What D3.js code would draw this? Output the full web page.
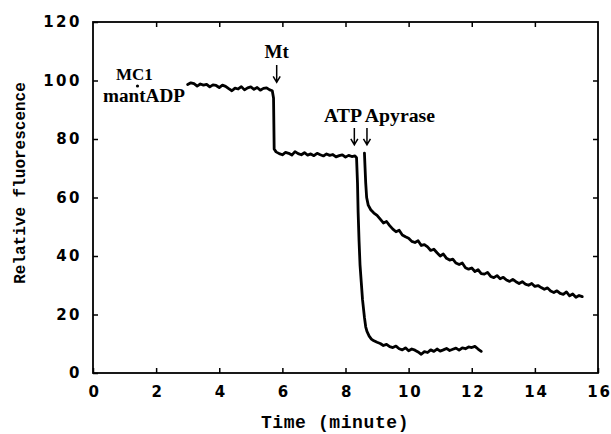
<!DOCTYPE html>
<html>
<head>
<meta charset="utf-8">
<script src="https://cdn.jsdelivr.net/npm/d3@7"></script>
<style>
  html, body { margin: 0; padding: 0; background: #fff; }
  svg { display: block; }
</style>
</head>
<body>
<svg id="chart" width="611" height="434"></svg>
<script>
// Axis ticks
const xTicks = [0, 2, 4, 6, 8, 10, 12, 14, 16];
const yTicks = [0, 20, 40, 60, 80, 100, 120];

// Fluorescence trace: MC1·mantADP, then microtubules (Mt), then ATP
const traceMainTime = [
  3.0, 3.1, 3.2, 3.3, 3.4, 3.5, 3.6, 3.7, 3.8, 3.9,
  4.0, 4.1, 4.2, 4.3, 4.4, 4.5, 4.6, 4.7, 4.8, 4.9,
  5.0, 5.1, 5.2, 5.3, 5.4, 5.5, 5.6, 5.68, 5.72, 5.74,
  5.8, 5.9, 6.0, 6.1, 6.2, 6.3, 6.4, 6.5, 6.6, 6.7,
  6.8, 6.9, 7.0, 7.1, 7.2, 7.3, 7.4, 7.5, 7.6, 7.7,
  7.8, 7.9, 8.0, 8.1, 8.2, 8.3, 8.35, 8.38, 8.40, 8.43,
  8.46, 8.50, 8.54, 8.60, 8.64, 8.68, 8.75, 8.82, 8.9, 9.0,
  9.1, 9.2, 9.3, 9.4, 9.5, 9.6, 9.7, 9.8, 9.9, 10.0,
  10.1, 10.2, 10.3, 10.4, 10.5, 10.6, 10.7, 10.8, 10.9, 11.0,
  11.1, 11.2, 11.3, 11.4, 11.5, 11.6, 11.7, 11.8, 11.9, 12.0,
  12.1, 12.2, 12.3
];
const traceMainValue = [
  98.6, 99.2, 98.9, 98.1, 98.8, 98.4, 98.7, 97.8, 98.5, 98.3,
  97.6, 98.4, 98.0, 97.2, 96.5, 97.4, 97.1, 97.9, 96.8, 97.5,
  97.8, 97.0, 97.6, 96.7, 97.3, 97.5, 96.8, 96.5, 94.0, 76.6,
  75.6, 75.0, 74.6, 75.4, 75.1, 74.5, 75.7, 75.0, 74.6, 75.3,
  74.5, 74.9, 74.3, 75.1, 74.6, 74.2, 74.9, 74.4, 74.7, 73.9,
  74.3, 74.6, 73.8, 74.4, 74.0, 74.2, 73.6, 65.0, 55.0, 45.0,
  37.0, 31.0, 25.0, 19.0, 15.8, 14.2, 12.6, 11.6, 11.0, 10.5,
  10.1, 9.4, 9.8, 9.0, 8.7, 9.2, 8.3, 7.9, 8.6, 7.6,
  8.2, 7.8, 7.2, 6.4, 7.3, 7.0, 7.9, 7.4, 8.2, 7.5,
  7.9, 8.4, 7.7, 8.1, 8.5, 7.8, 8.6, 8.3, 8.9, 8.7,
  9.1, 8.2, 7.4
];

// Fluorescence trace after apyrase addition
const traceApyTime = [
  8.60, 8.62, 8.64, 8.67, 8.72, 8.8, 8.9, 9.0, 9.1, 9.2,
  9.3, 9.4, 9.5, 9.6, 9.7, 9.8, 9.9, 10.0, 10.1, 10.2,
  10.3, 10.4, 10.5, 10.6, 10.7, 10.8, 10.9, 11.0, 11.1, 11.2,
  11.3, 11.4, 11.5, 11.6, 11.7, 11.8, 11.9, 12.0, 12.1, 12.2,
  12.3, 12.4, 12.5, 12.6, 12.7, 12.8, 12.9, 13.0, 13.1, 13.2,
  13.3, 13.4, 13.5, 13.6, 13.7, 13.8, 13.9, 14.0, 14.1, 14.2,
  14.3, 14.4, 14.5, 14.6, 14.7, 14.8, 14.9, 15.0, 15.1, 15.2,
  15.3, 15.4, 15.5
];
const traceApyValue = [
  75.2, 70.0, 65.0, 60.0, 57.4, 55.8, 54.7, 53.9, 52.6, 51.3,
  51.8, 50.4, 49.2, 48.3, 48.8, 47.2, 46.6, 46.1, 45.0, 44.6,
  45.2, 43.6, 43.9, 43.1, 41.9, 42.3, 41.1, 40.0, 40.7, 39.2,
  38.6, 38.9, 37.6, 37.1, 37.6, 36.0, 35.5, 35.9, 34.7, 35.3,
  34.0, 33.8, 34.4, 33.0, 32.6, 33.3, 32.2, 32.7, 31.8, 31.3,
  32.0, 31.2, 30.6, 31.2, 30.4, 30.0, 30.6, 29.6, 29.9, 29.2,
  28.6, 29.1, 28.0, 27.5, 28.1, 27.2, 26.9, 27.7, 26.4, 27.0,
  25.9, 26.5, 26.1
];

// Annotation labels and arrow positions (time, fluorescence)
const labelTexts = ["MC1", "mantADP", "Mt", "ATP Apyrase"];
const arrowTimes = [5.82, 8.28, 8.68];
const arrowTop = [105.3, 83.8, 83.8];
const arrowBottom = [99.4, 78.0, 78.0];

const svg = d3.select("#chart");
const x = d3.scaleLinear().domain([0, 16]).range([93, 598]);
const y = d3.scaleLinear().domain([0, 120]).range([373, 22]);

const tickFont = "'DejaVu Sans', sans-serif";
const monoFont = "'Liberation Mono', 'DejaVu Sans Mono', monospace";
const serifFont = "'Liberation Serif', 'Times New Roman', serif";

// Frame
svg.append("rect")
  .attr("x", x(0)).attr("y", y(120))
  .attr("width", x(16) - x(0)).attr("height", y(0) - y(120))
  .attr("fill", "none").attr("stroke", "#000").attr("stroke-width", 1.8);

function styleAxis(g, showText, spacing) {
  g.select(".domain").remove();
  g.selectAll(".tick line").attr("stroke", "#000").attr("stroke-width", 1.5);
  g.selectAll(".tick text")
    .attr("fill", "#000")
    .style("font-family", tickFont)
    .style("font-weight", "bold")
    .style("font-size", "15px")
    .style("letter-spacing", spacing)
    .style("display", showText ? null : "none");
}

// Bottom axis: ticks point inward
svg.append("g")
  .attr("transform", `translate(0,${y(0)})`)
  .call(d3.axisBottom(x).tickValues(xTicks).tickSizeInner(-5).tickSizeOuter(0).tickPadding(13))
  .call(g => styleAxis(g, true, "1.8px"))
  .call(g => g.selectAll(".tick text").attr("dx", "1px"));

// Top axis (ticks only)
svg.append("g")
  .attr("transform", `translate(0,${y(120)})`)
  .call(d3.axisTop(x).tickValues(xTicks.slice(1, -1)).tickSizeInner(-5).tickSizeOuter(0))
  .call(g => styleAxis(g, false, "0px"));

// Left axis
svg.append("g")
  .attr("transform", `translate(${x(0)},0)`)
  .call(d3.axisLeft(y).tickValues(yTicks).tickSizeInner(-5).tickSizeOuter(0).tickPadding(13))
  .call(g => styleAxis(g, true, "2.5px"))
  .call(g => g.selectAll(".tick text").attr("dx", "2px"));

// Right axis (ticks only)
svg.append("g")
  .attr("transform", `translate(${x(16)},0)`)
  .call(d3.axisRight(y).tickValues(yTicks.slice(1, -1)).tickSizeInner(-5).tickSizeOuter(0))
  .call(g => styleAxis(g, false, "0px"));

// Axis titles
svg.append("text")
  .attr("x", 335).attr("y", 428)
  .attr("text-anchor", "middle")
  .style("font-family", monoFont).style("font-weight", "bold")
  .style("font-size", "18px")
  .style("letter-spacing", "0.6px")
  .text("Time (minute)");

svg.append("text")
  .attr("transform", "translate(25,183) rotate(-90)")
  .attr("text-anchor", "middle")
  .style("font-family", monoFont).style("font-weight", "bold")
  .style("font-size", "16px")
  .text("Relative fluorescence");

// Traces
const line = d3.line().x(d => x(d[0])).y(d => y(d[1]));
const mainData = traceMainTime.map((t, i) => [t, traceMainValue[i]]);
const apyData = traceApyTime.map((t, i) => [t, traceApyValue[i]]);

[mainData, apyData].forEach(data => {
  svg.append("path")
    .datum(data)
    .attr("d", line)
    .attr("fill", "none")
    .attr("stroke", "#000")
    .attr("stroke-width", 2.8)
    .attr("stroke-linejoin", "round")
    .attr("stroke-linecap", "round");
});

// Arrows marking additions
arrowTimes.forEach((t, i) => {
  const ax = x(t), y0 = y(arrowTop[i]), y1 = y(arrowBottom[i]);
  svg.append("path")
    .attr("d", `M${ax},${y0}L${ax},${y1}M${ax - 3.5},${y1 - 6}L${ax},${y1}L${ax + 3.5},${y1 - 6}`)
    .attr("fill", "none").attr("stroke", "#000").attr("stroke-width", 1.5);
});

// Labels
const serif = (sel) => sel.style("font-family", serifFont).style("font-weight", "bold");

svg.append("text").attr("x", 116).attr("y", 80)
  .call(serif).style("font-size", "17px")
  .text(labelTexts[0]);
svg.append("circle").attr("cx", 137.5).attr("cy", 86).attr("r", 1.6).attr("fill", "#000");
svg.append("text").attr("x", 103).attr("y", 101.5)
  .call(serif).style("font-size", "18px")
  .attr("textLength", 82).attr("lengthAdjust", "spacingAndGlyphs")
  .text(labelTexts[1]);
svg.append("text").attr("x", x(arrowTimes[0])).attr("y", 58)
  .attr("text-anchor", "middle")
  .call(serif).style("font-size", "19px")
  .text(labelTexts[2]);
svg.append("text").attr("x", 324).attr("y", 122)
  .call(serif).style("font-size", "18.5px")
  .attr("textLength", 111).attr("lengthAdjust", "spacingAndGlyphs")
  .text(labelTexts[3]);
</script>
</body>
</html>
